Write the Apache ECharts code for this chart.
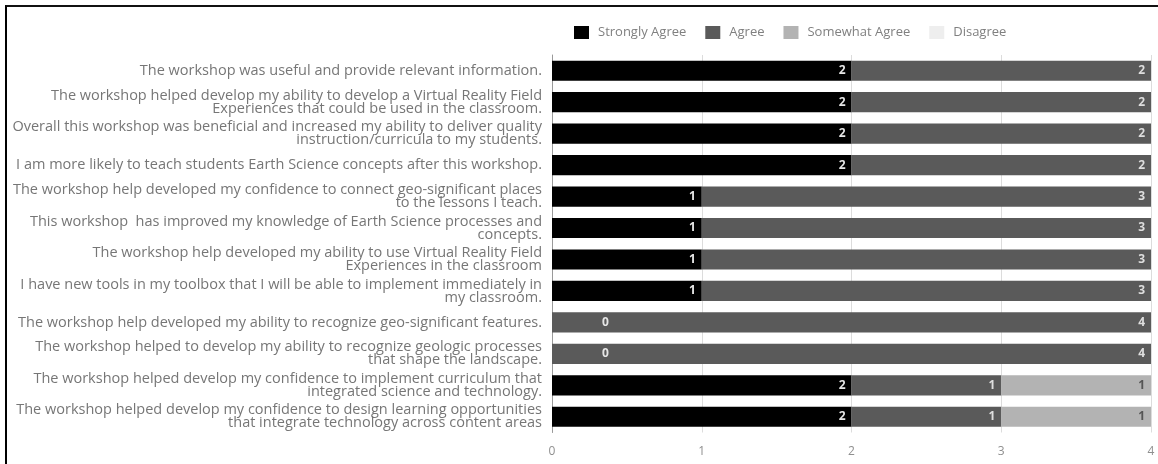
<!DOCTYPE html>
<html>
<head>
<meta charset="utf-8">
<script src="https://cdn.jsdelivr.net/npm/echarts@6/dist/echarts.min.js"></script>
<style>
  html, body { margin: 0; padding: 0; background: #fff; }
  #frame { position: absolute; left: 5px; top: 5px; right: 0; bottom: 0;
           border-left: 2px solid #000; border-top: 2px solid #111; }
  #chart { position: absolute; left: 0; top: 0; width: 1158px; height: 464px; }
</style>
</head>
<body>
<div id="frame"></div>
<div id="chart"></div>
<script>
// Survey statements (one per row, top to bottom)
const statements = [
  'The workshop was useful and provide relevant information.',
  'The workshop helped develop my ability to develop a Virtual Reality Field\nExperiences that could be used in the classroom.',
  'Overall this workshop was beneficial and increased my ability to deliver quality\ninstruction/curricula to my students.',
  'I am more likely to teach students Earth Science concepts after this workshop.',
  'The workshop help developed my confidence to connect geo-significant places\nto the lessons I teach.',
  'This workshop  has improved my knowledge of Earth Science processes and\nconcepts.',
  'The workshop help developed my ability to use Virtual Reality Field\nExperiences in the classroom',
  'I have new tools in my toolbox that I will be able to implement immediately in\nmy classroom.',
  'The workshop help developed my ability to recognize geo-significant features.',
  'The workshop helped to develop my ability to recognize geologic processes\nthat shape the landscape.',
  'The workshop helped develop my confidence to implement curriculum that\nintegrated science and technology.',
  'The workshop helped develop my confidence to design learning opportunities\nthat integrate technology across content areas'
];

// Response counts per statement
const stronglyAgree  = [2, 2, 2, 2, 1, 1, 1, 1, 0, 0, 2, 2];
const agree          = [2, 2, 2, 2, 3, 3, 3, 3, 4, 4, 1, 1];
const somewhatAgree  = [0, 0, 0, 0, 0, 0, 0, 0, 0, 0, 1, 1];
const disagree       = [0, 0, 0, 0, 0, 0, 0, 0, 0, 0, 0, 0];

const seriesNames = ['Strongly Agree', 'Agree', 'Somewhat Agree', 'Disagree'];
const xTicks = [0, 1, 2, 3, 4];

const FONT = '"Open Sans", Roboto, sans-serif';

// Value labels sit inside the right end of each segment; a zero count for
// the first response is still written, just to the right of the axis.
function makeData(values, showZero) {
  return values.map(v => {
    if (v === 0 && showZero) {
      return { value: v, label: { show: true, position: 'insideLeft', offset: [44, 0] } };
    }
    return { value: v, label: { show: v !== 0 } };
  });
}

function barSeries(name, values, color, labelColor, showZero) {
  return {
    name: name,
    type: 'bar',
    stack: 'total',
    barCategoryGap: '36%',
    data: makeData(values, showZero),
    itemStyle: { color: color },
    label: {
      position: 'insideRight',
      distance: 6,
      color: labelColor,
      fontFamily: FONT,
      fontSize: 12,
      fontWeight: 'bold'
    },
    emphasis: { disabled: true }
  };
}

const chart = echarts.init(document.getElementById('chart'), null, { renderer: 'canvas' });

chart.setOption({
  animation: false,
  textStyle: { fontFamily: FONT },
  legend: {
    data: seriesNames,
    left: 569,
    top: 21,
    icon: 'rect',
    itemWidth: 15,
    itemHeight: 13,
    itemGap: 19,
    textStyle: { color: '#808080', fontSize: 13, fontFamily: FONT, padding: [0, 0, 0, 4] }
  },
  grid: { left: 552, right: 7, top: 55, height: 377.5, containLabel: false },
  xAxis: {
    type: 'value',
    min: xTicks[0],
    max: xTicks[xTicks.length - 1],
    interval: 1,
    axisLine: { show: false },
    axisTick: { show: false },
    splitLine: { show: true, lineStyle: { color: '#dcdcdc', width: 1 } },
    axisLabel: {
      color: '#8f8f8f',
      fontSize: 12,
      fontFamily: FONT,
      margin: 13,
      formatter: v => String(v)
    }
  },
  yAxis: {
    type: 'category',
    data: statements,
    inverse: true,
    axisLine: { show: true, lineStyle: { color: '#9a9a9a', width: 1 } },
    axisTick: { show: false },
    axisLabel: {
      color: '#767676',
      fontSize: 14.5,
      fontFamily: FONT,
      margin: 10,
      lineHeight: 13,
      align: 'right'
    }
  },
  series: [
    barSeries(seriesNames[0], stronglyAgree, '#000000', '#e6e6e6', true),
    barSeries(seriesNames[1], agree, '#5a5a5a', '#dedede', false),
    barSeries(seriesNames[2], somewhatAgree, '#b3b3b3', '#555555', false),
    barSeries(seriesNames[3], disagree, '#eeeeee', '#555555', false)
  ]
});
</script>
</body>
</html>
